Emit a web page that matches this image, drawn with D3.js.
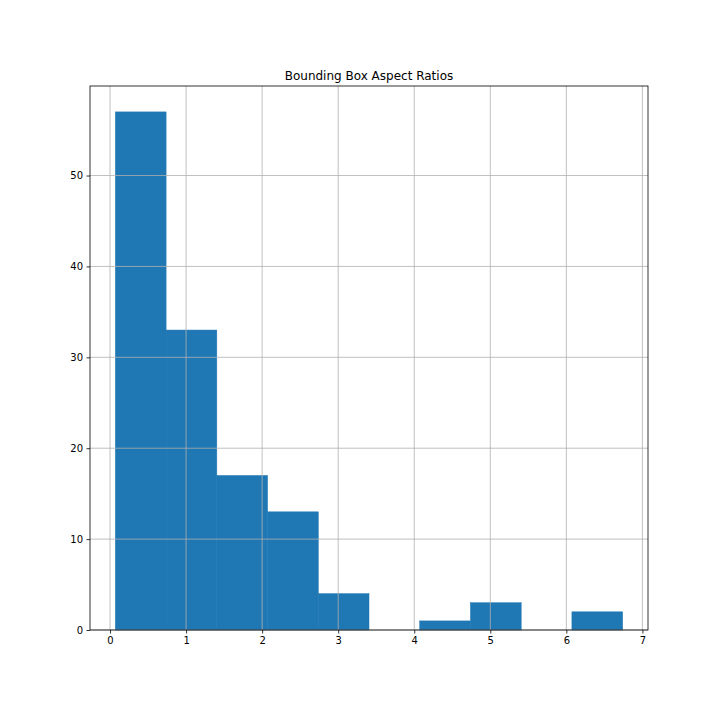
<!DOCTYPE html>
<html>
<head>
<meta charset="utf-8">
<script src="https://cdn.jsdelivr.net/npm/d3@7"></script>
<style>
  body { margin: 0; background: #fff; }
  svg { display: block; font-family: "DejaVu Sans", sans-serif; }
</style>
</head>
<body>
<svg id="chart" width="720" height="720"></svg>
<script>
// histogram bins
const binEdges = [0.07, 0.737, 1.404, 2.071, 2.738, 3.405, 4.072, 4.739, 5.406, 6.073, 6.74];
const counts = [57, 33, 17, 13, 4, 0, 1, 3, 0, 2];
const xTicks = [0, 1, 2, 3, 4, 5, 6, 7];
const yTicks = [0, 10, 20, 30, 40, 50];
const title = "Bounding Box Aspect Ratios";

const margin = { top: 86, right: 72, bottom: 90, left: 90 };
const width = 720 - margin.left - margin.right;
const height = 720 - margin.top - margin.bottom;

const bins = counts.map((c, i) => ({ x0: binEdges[i], x1: binEdges[i + 1], count: c }));

const span = binEdges[binEdges.length - 1] - binEdges[0];
const x = d3.scaleLinear()
  .domain([binEdges[0] - span * 0.05, binEdges[binEdges.length - 1] + span * 0.05])
  .range([0, width]);
const y = d3.scaleLinear()
  .domain([0, d3.max(counts) * 1.05])
  .range([height, 0]);

const svg = d3.select("#chart");
const g = svg.append("g").attr("transform", `translate(${margin.left},${margin.top})`);

// bars - stroke in the fill colour so neighbours don't show a seam
g.selectAll("rect.bar")
  .data(bins.filter((d) => d.count > 0))
  .enter()
  .append("rect")
  .attr("class", "bar")
  .attr("x", (d) => x(d.x0))
  .attr("width", (d) => x(d.x1) - x(d.x0))
  .attr("y", (d) => y(d.count))
  .attr("height", (d) => y(0) - y(d.count))
  .attr("fill", "#1f77b4")
  .attr("stroke", "#1f77b4")
  .attr("stroke-width", 0.5);

// grid lines (drawn over the bars, like matplotlib's pandas hist)
g.selectAll("line.vgrid")
  .data(xTicks)
  .enter()
  .append("line")
  .attr("class", "vgrid")
  .attr("x1", (d) => x(d))
  .attr("x2", (d) => x(d))
  .attr("y1", 0)
  .attr("y2", height)
  .attr("stroke", "#b0b0b0")
  .attr("stroke-width", 0.8);

g.selectAll("line.hgrid")
  .data(yTicks)
  .enter()
  .append("line")
  .attr("class", "hgrid")
  .attr("x1", 0)
  .attr("x2", width)
  .attr("y1", (d) => y(d))
  .attr("y2", (d) => y(d))
  .attr("stroke", "#b0b0b0")
  .attr("stroke-width", 0.8);

// axes
const xAxis = g.append("g")
  .attr("transform", `translate(0,${height})`)
  .call(d3.axisBottom(x).tickValues(xTicks).tickSize(3.5).tickPadding(3.5).tickFormat(d3.format("d")));
const yAxis = g.append("g")
  .call(d3.axisLeft(y).tickValues(yTicks).tickSize(3.5).tickPadding(3.5).tickFormat(d3.format("d")));

[xAxis, yAxis].forEach((a) => {
  a.select(".domain").remove();
  a.selectAll(".tick line").attr("stroke", "#000").attr("stroke-width", 0.8);
  a.selectAll(".tick text")
    .attr("fill", "#000")
    .style("font-size", "10px")
    .style("font-family", "'DejaVu Sans', sans-serif");
});

// frame
g.append("rect")
  .attr("x", 0)
  .attr("y", 0)
  .attr("width", width)
  .attr("height", height)
  .attr("fill", "none")
  .attr("stroke", "#000")
  .attr("stroke-width", 0.8);

// title
g.append("text")
  .attr("x", width / 2)
  .attr("y", -6)
  .attr("text-anchor", "middle")
  .style("font-size", "12px")
  .attr("fill", "#000")
  .text(title);
</script>
</body>
</html>
